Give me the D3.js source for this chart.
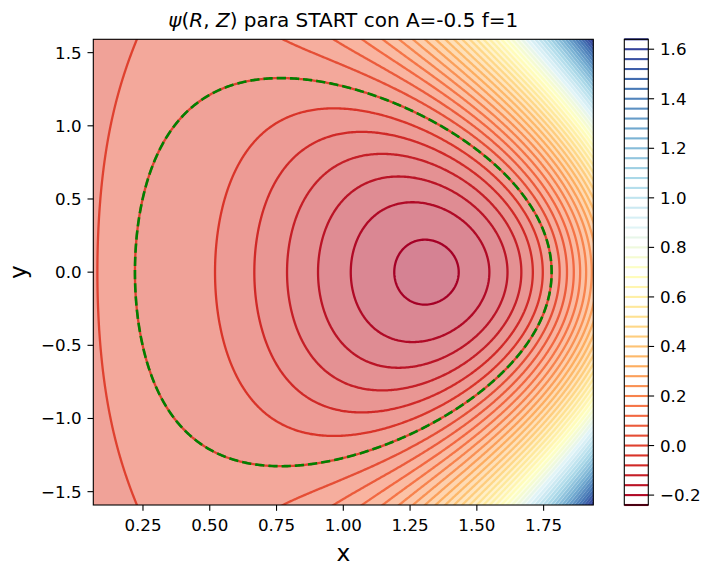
<!DOCTYPE html>
<html><head><meta charset="utf-8">
<script src="https://cdn.jsdelivr.net/npm/d3@7"></script>
<style>body{margin:0;background:#fff} svg{display:block} text{font-family:"DejaVu Sans",sans-serif;fill:#000}</style>
</head><body><svg id="chart" width="703" height="569"></svg>
<script>
// ---- data: equilibrium parameters (Solov'ev / Cerfon-Freidberg, START) ----
const A_param = -0.5;
const f_param = 1;
const shapeEpsilon = [0.78];
const shapeKappa = [1.7];
const shapeDelta = [0.3];
const lineLevels = [-0.24,-0.2,-0.16,-0.12,-0.08,-0.04,0,0.04,0.08,0.12,0.16,0.2,0.24,0.28,0.32,0.36,0.4,0.44,0.48,0.52,0.56,0.6,0.64,0.68,0.72,0.76,0.8,0.84,0.88,0.92,0.96,1.0,1.04,1.08,1.12,1.16,1.2,1.24,1.28,1.32,1.36,1.4,1.44,1.48,1.52,1.56,1.6,1.64];
const fillLevels = [-0.28].concat(lineLevels, [1.68]);
const boundaryLevels = [0];
const xTicks = [0.25,0.5,0.75,1.0,1.25,1.5,1.75];
const yTicks = [-1.5,-1.0,-0.5,0,0.5,1.0,1.5];
const cbTicks = [-0.2,0,0.2,0.4,0.6,0.8,1.0,1.2,1.4,1.6];
const rdylbu = ["#a50026","#d73027","#f46d43","#fdae61","#fee090","#ffffbf","#e0f3f8","#abd9e9","#74add1","#4575b4","#313695"];

const eps = shapeEpsilon[0], kap = shapeKappa[0], del = shapeDelta[0];

// ---- psi field ----
const P=Math.pow;
function psiP(x, y){ const L=Math.log(x); return P(x,4)/8 + A_param*(x*x*L/2 - P(x,4)/8); }
const basis = [
  (x,y)=>1,
  (x,y)=>x*x,
  (x,y)=>y*y - x*x*Math.log(x),
  (x,y)=>P(x,4) - 4*x*x*y*y,
  (x,y)=>{const L=Math.log(x);return 2*P(y,4) - 9*y*y*x*x + 3*P(x,4)*L - 12*x*x*y*y*L;},
  (x,y)=>P(x,6) - 12*P(x,4)*y*y + 8*x*x*P(y,4),
  (x,y)=>{const L=Math.log(x);return 8*P(y,6) - 140*P(y,4)*x*x + 75*y*y*P(x,4) - 15*P(x,6)*L + 180*P(x,4)*y*y*L - 120*x*x*P(y,4)*L;}
];
const h1=1e-5,h2=1e-4;
const Dx=(f,x,y)=>(f(x+h1,y)-f(x-h1,y))/(2*h1);
const Dy=(f,x,y)=>(f(x,y+h1)-f(x,y-h1))/(2*h1);
const Dxx=(f,x,y)=>(f(x+h2,y)-2*f(x,y)+f(x-h2,y))/(h2*h2);
const Dyy=(f,x,y)=>(f(x,y+h2)-2*f(x,y)+f(x,y-h2))/(h2*h2);
const alpha=Math.asin(del);
const N1=-(P(1+alpha,2))/(eps*kap*kap), N2=P(1-alpha,2)/(eps*kap*kap), N3=-kap/(eps*P(Math.cos(alpha),2));
const xo=1+eps, xi=1-eps, xt=1-del*eps, yt=kap*eps;
const conds=[
  f=>f(xo,0), f=>f(xi,0), f=>f(xt,yt), f=>Dx(f,xt,yt),
  f=>Dyy(f,xo,0)+N1*Dx(f,xo,0),
  f=>Dyy(f,xi,0)+N2*Dx(f,xi,0),
  f=>Dxx(f,xt,yt)+N3*Dy(f,xt,yt)
];
const M=conds.map(c=>basis.map(b=>c(b)));
const rhs=conds.map(c=>-c(psiP));
(function solve(){
  const n=7;
  for(let k=0;k<n;k++){
    let p=k;for(let r=k+1;r<n;r++) if(Math.abs(M[r][k])>Math.abs(M[p][k])) p=r;
    [M[k],M[p]]=[M[p],M[k]];[rhs[k],rhs[p]]=[rhs[p],rhs[k]];
    for(let r=k+1;r<n;r++){const m=M[r][k]/M[k][k];for(let c=k;c<n;c++)M[r][c]-=m*M[k][c];rhs[r]-=m*rhs[k];}
  }
  for(let k=n-1;k>=0;k--){let s=rhs[k];for(let c=k+1;c<n;c++)s-=M[k][c]*rhs[c];rhs[k]=s/M[k][k];}
})();
const coef=rhs;
function psi(x,y){let s=psiP(x,y);for(let i=0;i<7;i++)s+=coef[i]*basis[i](x,y);return f_param*s;}

// ---- layout ----
const svg=d3.select("#chart");
const L=93.3,R=593.3,T=39.3,B=505;
const xmin=1-1.2*eps,xmax=1+1.2*eps,ymin=-1.2*kap*eps,ymax=1.2*kap*eps;
const sx=d3.scaleLinear().domain([xmin,xmax]).range([L,R]);
const sy=d3.scaleLinear().domain([ymin,ymax]).range([B,T]);
const cmap=d3.scaleLinear().domain(rdylbu.map((c,i)=>i/10)).range(rdylbu).interpolate(d3.interpolateRgb).clamp(true);

// grid
const N=340,pad=3,W=N+1+2*pad,H=N+1+2*pad;
const dx=(xmax-xmin)/N,dy=(ymax-ymin)/N;
const vals=new Float64Array(W*H);
let zmin=Infinity,zmax=-Infinity;
for(let j=0;j<H;j++){const y=ymin+(j-pad)*dy;for(let i=0;i<W;i++){const x=xmin+(i-pad)*dx;const v=psi(x,y);vals[j*W+i]=v;
 if(i>=pad&&i<W-pad&&j>=pad&&j<H-pad){if(v<zmin)zmin=v;if(v>zmax)zmax=v;}}}
const proj=d3.geoTransform({point(cx,cy){this.stream.point(sx(xmin+(cx-0.5-pad)*dx),sy(ymin+(cy-0.5-pad)*dy));}});
const path=d3.geoPath(proj);
const gen=d3.contours().size([W,H]);

svg.append("defs").append("clipPath").attr("id","clip").append("rect").attr("x",L).attr("y",T).attr("width",R-L).attr("height",B-T);
const g=svg.append("g").attr("clip-path","url(#clip)");

// filled bands (alpha 0.5 over white)
const fv0=fillLevels[0],fv1=fillLevels[fillLevels.length-1];
for(let k=0;k<fillLevels.length-1;k++){
  const mid=(fillLevels[k]+fillLevels[k+1])/2;
  const col=d3.interpolateRgb("#ffffff",cmap((mid-fv0)/(fv1-fv0)))(0.5);
  const c=gen.contour(vals,fillLevels[k]);
  g.append("path").attr("d",path(c)).attr("fill",col).attr("fill-rule","evenodd").attr("stroke",col).attr("stroke-width",0.3);
}
// contour lines
const lv0=lineLevels[0],lv1=lineLevels[lineLevels.length-1];
const lineColor=v=>cmap((v-lv0)/(lv1-lv0));
lineLevels.forEach(v=>{
  if(v<=zmin||v>=zmax) return;
  g.append("path").attr("d",path(gen.contour(vals,v))).attr("fill","none").attr("stroke",lineColor(v)).attr("stroke-width",2.3).attr("stroke-linejoin","round");
});
// plasma boundary psi=0 (closed surface only)
boundaryLevels.forEach(v=>{
  const rings=[];
  gen.contour(vals,v).coordinates.forEach(poly=>poly.forEach(ring=>{
    const inside=ring.every(p=>p[0]>pad+2&&p[0]<W-pad-2&&p[1]>pad+2&&p[1]<H-pad-2);
    if(inside) rings.push(ring);
  }));
  g.append("path").attr("d",path({type:"MultiLineString",coordinates:rings})).attr("fill","none").attr("stroke","green").attr("stroke-width",2.6).attr("stroke-dasharray","9.25,4");
});

// axes frame
svg.append("rect").attr("x",L).attr("y",T).attr("width",R-L).attr("height",B-T).attr("fill","none").attr("stroke","#000").attr("stroke-width",1.1);
const tl=5.8;
xTicks.forEach(t=>{const x=sx(t);
  svg.append("line").attr("x1",x).attr("x2",x).attr("y1",B).attr("y2",B+tl).attr("stroke","#000").attr("stroke-width",1.1);
  svg.append("text").attr("x",x).attr("y",531).attr("text-anchor","middle").attr("font-size",16.7).text(t.toFixed(2));
});
const fmt1=v=>(v<0?"\u2212":"")+Math.abs(v).toFixed(1);
yTicks.forEach(t=>{const y=sy(t);
  svg.append("line").attr("x1",L-tl).attr("x2",L).attr("y1",y).attr("y2",y).attr("stroke","#000").attr("stroke-width",1.1);
  svg.append("text").attr("x",81.6).attr("y",y+6).attr("text-anchor","end").attr("font-size",16.7).text(fmt1(t));
});
svg.append("text").attr("x",(L+R)/2).attr("y",560.5).attr("text-anchor","middle").attr("font-size",23.3).text("x");
svg.append("text").attr("transform",`translate(26,${sy(0)}) rotate(-90)`).attr("text-anchor","middle").attr("font-size",23.3).text("y");

// title
const title=svg.append("text").attr("x",(L+R)/2).attr("y",27).attr("text-anchor","middle").attr("font-size",20);
title.append("tspan").attr("font-style","italic").text("\u03c8");
title.append("tspan").text("(");
title.append("tspan").attr("font-style","italic").text("R");
title.append("tspan").text(", ");
title.append("tspan").attr("font-style","italic").text("Z");
title.append("tspan").text(") para START con A=-0.5 f=1");

// colorbar
const CL=624.3,CR=648.3;
const cs=d3.scaleLinear().domain([lv0,lv1]).range([B,T]);
svg.append("rect").attr("x",CL).attr("y",T).attr("width",CR-CL).attr("height",B-T).attr("fill","#fff");
lineLevels.forEach(v=>{
  svg.append("line").attr("x1",CL).attr("x2",CR).attr("y1",cs(v)).attr("y2",cs(v)).attr("stroke",lineColor(v)).attr("stroke-width",2.1);
});
svg.append("rect").attr("x",CL).attr("y",T).attr("width",CR-CL).attr("height",B-T).attr("fill","none").attr("stroke","#000").attr("stroke-width",1.1);
cbTicks.forEach(t=>{const y=cs(t);
  svg.append("line").attr("x1",CR).attr("x2",CR+tl).attr("y1",y).attr("y2",y).attr("stroke","#000").attr("stroke-width",1.1);
  svg.append("text").attr("x",660).attr("y",y+6).attr("font-size",16.7).text(fmt1(t));
});
</script></body></html>
